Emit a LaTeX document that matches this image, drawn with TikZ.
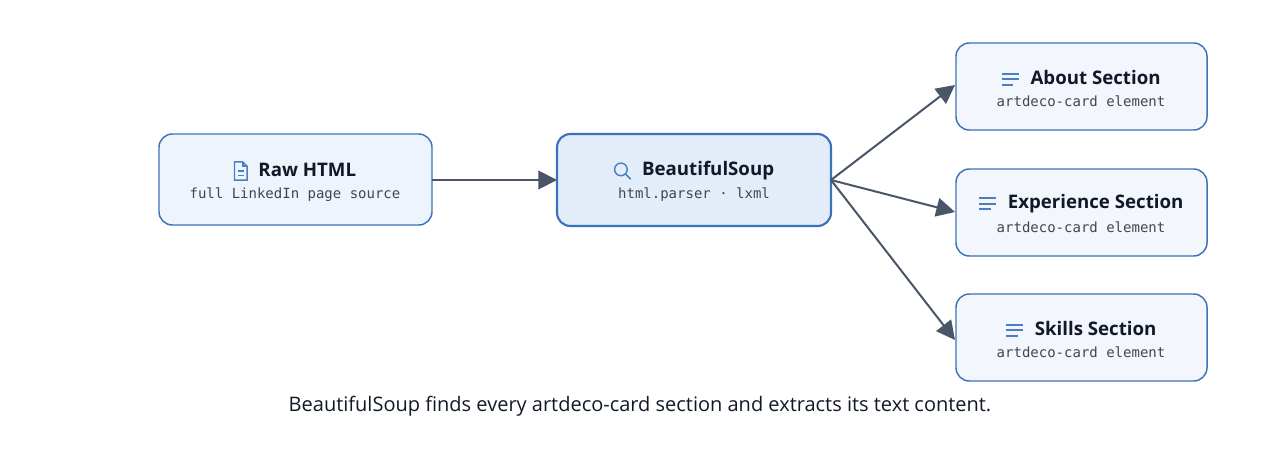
\documentclass[tikz,border=0pt]{standalone}
\usepackage{fontspec}
\setmainfont{Open Sans}
\setmonofont{DejaVu Sans Mono}
\usetikzlibrary{arrows.meta}
\definecolor{bd}{HTML}{3B73B9}
\definecolor{fillA}{HTML}{EEF4FC}
\definecolor{fillB}{HTML}{E3EDFA}
\definecolor{fillC}{HTML}{F3F7FD}
\definecolor{arr}{HTML}{4A5568}
\definecolor{ttl}{HTML}{111827}
\definecolor{sub}{HTML}{3F4652}
\definecolor{ic}{HTML}{4A7FC4}
\newcommand{\docicon}{\tikz[baseline=-0.5ex,x=1.05pt,y=-1.05pt,line width=1pt,ic]{\draw (-4.5,-6.5)--(1.5,-6.5)--(4.5,-3.5)--(4.5,6.5)--(-4.5,6.5)--cycle; \draw (1.5,-6.5)--(1.5,-3.5)--(4.5,-3.5); \draw (-2,0)--(2,0) (-2,3)--(2,3);}}
\newcommand{\magicon}{\tikz[baseline=-0.5ex,x=1.05pt,y=-1.05pt,line width=1.1pt,ic]{\draw (-1,-1) circle (4.5); \draw (2.3,2.3)--(6,6);}}
\newcommand{\linesicon}{\tikz[baseline=-0.5ex,x=1.05pt,y=-1.05pt,line width=1.3pt,ic]{\draw (-6,-4)--(6,-4) (-6,0)--(6,0) (-6,4)--(2,4);}}
\tikzset{
 box/.style={draw=bd,line width=1.1pt,rounded corners=10pt,fill=fillA},
 ttlnode/.style={font=\bfseries\fontsize{14}{16}\selectfont,text=ttl,inner sep=0pt},
 subnode/.style={font=\ttfamily\fontsize{10.5}{12}\selectfont,text=sub,inner sep=0pt},
 conn/.style={draw=arr,line width=1.5pt,-{Triangle[length=14pt,width=14pt]}},
}
\begin{document}
\begin{tikzpicture}[x=0.75pt,y=-0.75pt]
\useasboundingbox (0,0) rectangle (1280,450);
\path[box] (159,134) rectangle (432,225);
\coordinate (rawE) at (432,180);
\node[ttlnode] at (295,171) {\docicon\hspace{8pt}Raw HTML};
\node[subnode] at (295,195) {full LinkedIn page source};
\path[box,fill=fillB,line width=1.6pt] (557,134) rectangle (831,226);
\coordinate (bsW) at (557,180); \coordinate (bsE) at (831,180);
\node[ttlnode] at (694,171) {\magicon\hspace{8pt}BeautifulSoup};
\node[subnode] at (694,195) {html.parser · lxml};
\foreach \y/\t in {43/About Section,169/Experience Section,294/Skills Section}{
 \path[box,fill=fillC] (956,\y) rectangle (1207,\y+87);
 \node[ttlnode] at (1081,\y+35) {\linesicon\hspace{8pt}\t};
 \node[subnode] at (1081,\y+58) {artdeco-card element};
}
\coordinate (aW) at (955,85); \coordinate (bW) at (955,212); \coordinate (cW) at (955,340);
\draw[conn] (rawE) -- (bsW);
\draw[conn] (bsE) -- (aW);
\draw[conn] (bsE) -- (bW);
\draw[conn] (bsE) -- (cW);
\node[font=\fontsize{15}{18}\selectfont,text=ttl] (cap) at (640,406) {BeautifulSoup finds every artdeco-card section and extracts its text content.};
\end{tikzpicture}
\end{document}
